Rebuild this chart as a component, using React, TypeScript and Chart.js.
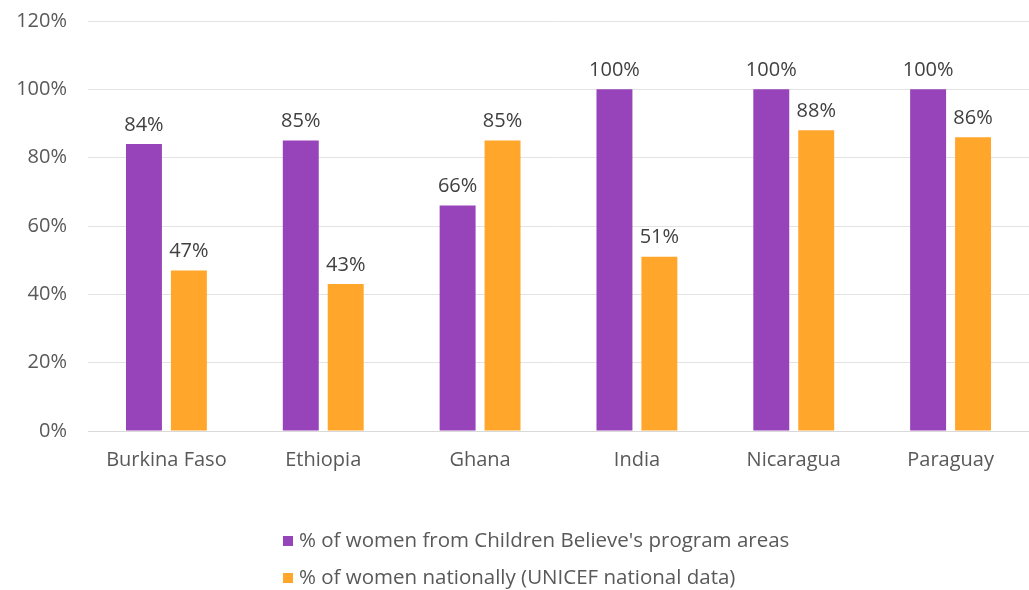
import React, { useEffect, useRef } from "react";
import { Chart, registerables } from "chart.js";

Chart.register(...registerables);

const categories = ["Burkina Faso", "Ethiopia", "Ghana", "India", "Nicaragua", "Paraguay"];
const programAreas = [84, 85, 66, 100, 100, 100];
const national = [47, 43, 85, 51, 88, 86];
const seriesLabels = [
  "% of women from Children Believe's program areas",
  "% of women nationally (UNICEF national data)",
];
const yTicks = [0, 20, 40, 60, 80, 100, 120];

const PURPLE = "#9743B9";
const ORANGE = "#FFA62B";
const FONT = "'Open Sans'";
const TEXT = "#595959";

export default function App() {
  const ref = useRef<HTMLCanvasElement | null>(null);
  useEffect(() => {
    document.body.style.margin = "0";
    const canvas = ref.current!;
    const dataLabels = {
      id: "dataLabels",
      afterDatasetsDraw(chart: any) {
        const ctx = chart.ctx;
        ctx.save();
        ctx.font = `20px ${FONT}`;
        ctx.fillStyle = "#404040";
        ctx.textAlign = "center";
        ctx.textBaseline = "bottom";
        chart.data.datasets.forEach((ds: any, i: number) => {
          const meta = chart.getDatasetMeta(i);
          meta.data.forEach((bar: any, j: number) => {
            ctx.fillText(ds.data[j] + "%", bar.x, bar.y - 9);
          });
        });
        ctx.restore();
      },
    };
    const customLegend = {
      id: "customLegend",
      afterDraw(chart: any) {
        const ctx = chart.ctx;
        ctx.save();
        ctx.font = `20.5px ${FONT}`;
        ctx.textAlign = "left";
        ctx.textBaseline = "middle";
        const ys = [541, 578];
        chart.data.datasets.forEach((ds: any, i: number) => {
          ctx.fillStyle = ds.backgroundColor;
          ctx.fillRect(283, ys[i] - 5, 10, 10);
          ctx.fillStyle = TEXT;
          ctx.fillText(ds.label, 299, ys[i]);
        });
        ctx.restore();
      },
    };
    const chart = new Chart(canvas, {
      type: "bar",
      data: {
        labels: categories,
        datasets: [
          { label: seriesLabels[0], data: programAreas, backgroundColor: PURPLE, categoryPercentage: 0.573, barPercentage: 0.8 },
          { label: seriesLabels[1], data: national, backgroundColor: ORANGE, categoryPercentage: 0.573, barPercentage: 0.8 },
        ],
      },
      options: {
        animation: false,
        responsive: false,
        maintainAspectRatio: false,
        layout: { padding: { top: 21, right: 0, left: 0, bottom: 109 } },
        plugins: { legend: { display: false }, tooltip: { enabled: false } },
        scales: {
          x: {
            grid: { display: false, drawTicks: false },
            border: { display: true, color: "#D9D9D9", width: 1 },
            ticks: { color: TEXT, font: { family: FONT, size: 20 }, padding: 17, maxRotation: 0 },
            afterFit(scale: any) { scale.height = 50; scale.paddingLeft = 0; scale.paddingRight = 0; },
          },
          y: {
            min: 0,
            max: 120,
            afterBuildTicks(scale: any) { scale.ticks = yTicks.map((v) => ({ value: v })); },
            grid: { color: "#E3E3E3", drawTicks: false },
            border: { display: false },
            ticks: { color: TEXT, font: { family: FONT, size: 20 }, padding: 21, callback: (v: any) => v + "%" },
            afterFit(scale: any) { scale.width = 88; scale.paddingTop = 0; scale.paddingBottom = 0; },
          },
        },
      },
      plugins: [dataLabels, customLegend],
    });
    return () => chart.destroy();
  }, []);
  return <canvas ref={ref} width={1029} height={590} style={{ display: "block" }} />;
}
